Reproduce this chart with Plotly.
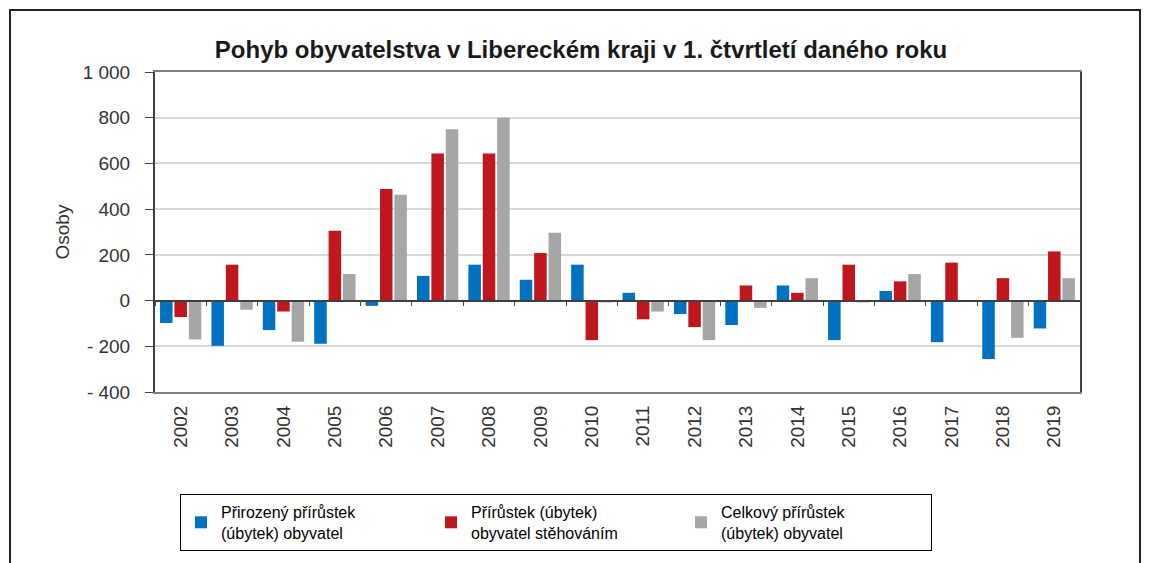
import plotly.graph_objects as go

years = [str(y) for y in range(2002, 2020)]
natural = [-98, -198, -129, -189, -23, 108, 157, 91, 157, 34, -59, -107, 66, -173, 42, -182, -256, -122]
migration = [-72, 157, -48, 306, 488, 643, 643, 208, -173, -82, -116, 66, 34, 157, 84, 166, 98, 215]
total = [-170, -40, -180, 116, 463, 750, 800, 297, -8, -48, -173, -32, 98, -8, 116, -3, -163, 98]

names = ["Přirozený přírůstek<br>(úbytek) obyvatel",
         "Přírůstek (úbytek)<br>obyvatel stěhováním",
         "Celkový přírůstek<br>(úbytek) obyvatel"]
colors = ["#0070C0", "#C0171F", "#A6A6A6"]

ytickvals = [-400, -200, 0, 200, 400, 600, 800, 1000]
yticktext = ["- 400", "- 200", "0", "200", "400", "600", "800", "1 000"]

FONT = "Liberation Sans, Arial, sans-serif"

fig = go.Figure()
for vals, nm, c in zip([natural, migration, total], names, colors):
    fig.add_trace(go.Bar(x=years, y=vals, name=nm, marker=dict(color=c, line=dict(width=0))))

# helper axis drawn at y=0 with ticks on category boundaries
fig.add_trace(go.Scatter(x=years, y=[None] * len(years), xaxis="x2", showlegend=False,
                         hoverinfo="skip", mode="lines"))

W, H = 1150, 563
L, T = 147, 64
PR, PB = 1072, 384          # plot right / bottom in figure pixels
R, B = W - PR, H - PB
pw, ph = PR - L, PB - T
zero_pos = (0 - (-400)) / (1000 - (-400))

def px(xpix):
    return (xpix - L) / pw

def py(ypix):
    return (PB - ypix) / ph

fig.update_layout(
    width=W, height=H,
    margin=dict(l=L, r=R, t=T, b=B, autoexpand=False),
    paper_bgcolor="white", plot_bgcolor="white",
    font=dict(family=FONT, size=19, color="#333333"),
    title=dict(text="<b>Pohyb obyvatelstva v Libereckém kraji v 1. čtvrtletí daného roku</b>",
               x=573 / W, xanchor="center",
               y=1 - 42 / H, yanchor="middle",
               font=dict(family=FONT, size=24, color="#1a1a1a")),
    barmode="group", bargap=0.16, bargroupgap=0.13,
    xaxis=dict(type="category", showline=True, mirror=True, linecolor="#7f7f7f", linewidth=2,
               ticks="", tickangle=-90, tickfont=dict(size=19, color="#333333"), showgrid=False,
               ticklabelstandoff=4,
               range=[-0.5, len(years) - 0.5]),
    xaxis2=dict(type="category", overlaying="x", anchor="free", position=zero_pos,
                showline=True, linecolor="#404040", linewidth=1.5,
                ticks="outside", ticklen=5, tickcolor="#404040", tickson="boundaries",
                showticklabels=False, showgrid=False,
                categoryorder="array", categoryarray=years,
                range=[-0.5, len(years) - 0.5]),
    yaxis=dict(range=[-400, 1000], tickvals=ytickvals, ticktext=yticktext,
               showgrid=True, gridcolor="#D9D9D9", gridwidth=1.5,
               zeroline=False, showline=True, mirror=True, linecolor="#404040", linewidth=2,
               ticks="outside", ticklen=8, tickcolor="#404040",
               ticklabelstandoff=11,
               tickfont=dict(size=19, color="#333333"),
               title=dict(text="Osoby", font=dict(size=19, color="#333333"), standoff=8)),
    legend=dict(orientation="h", x=px(172), y=py(486),
                xanchor="left", yanchor="top",
                bordercolor="black", borderwidth=1,
                font=dict(size=16, color="black"),
                entrywidth=205, entrywidthmode="pixels",
                itemwidth=30, traceorder="normal"),
    showlegend=True,
)

# outer frame of the chart
fig.add_shape(type="rect", xref="paper", yref="paper",
              x0=px(2), x1=px(1132), y0=py(620), y1=py(2),
              line=dict(color="#222222", width=2), fillcolor="rgba(0,0,0,0)", layer="below")

fig.write_html("out.html")
